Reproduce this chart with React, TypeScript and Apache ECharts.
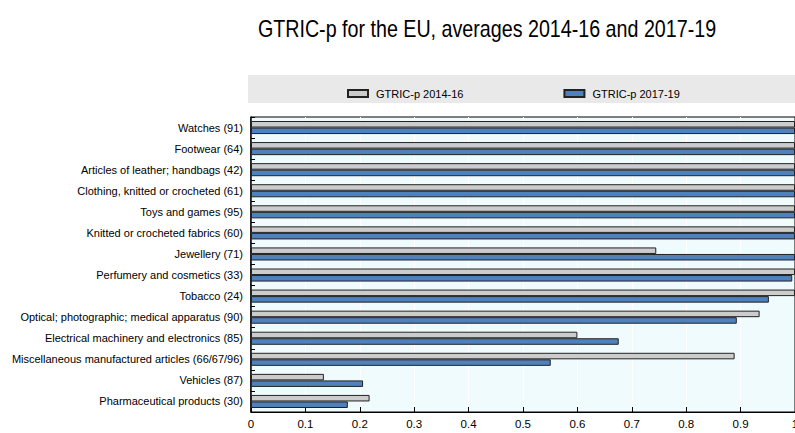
import React, { useEffect, useRef } from "react";
import * as echarts from "echarts";

const categories = [
  "Watches (91)",
  "Footwear (64)",
  "Articles of leather; handbags (42)",
  "Clothing, knitted or crocheted (61)",
  "Toys and games (95)",
  "Knitted or crocheted fabrics (60)",
  "Jewellery (71)",
  "Perfumery and cosmetics (33)",
  "Tobacco (24)",
  "Optical; photographic; medical apparatus (90)",
  "Electrical machinery and electronics (85)",
  "Miscellaneous manufactured articles (66/67/96)",
  "Vehicles (87)",
  "Pharmaceutical products (30)",
];

const gtric1416 = [1, 1, 1, 1, 1, 1, 0.745, 1, 1, 0.935, 0.6, 0.889, 0.134, 0.218];
const gtric1719 = [1, 1, 1, 1, 1, 1, 1, 0.995, 0.952, 0.893, 0.676, 0.551, 0.206, 0.178];

const seriesNames = ["GTRIC-p 2014-16", "GTRIC-p 2017-19"];
const xTicks = { min: 0, max: 1, interval: 0.1 };
const titleText = "GTRIC-p for the EU, averages 2014-16 and 2017-19";

const FONT = "'Liberation Sans', Arial, sans-serif";

export default function App() {
  const ref = useRef<HTMLDivElement>(null);

  useEffect(() => {
    if (!ref.current) return;
    const chart = echarts.init(ref.current, undefined, { renderer: "svg" });
    chart.setOption({
      animation: false,
      backgroundColor: "#ffffff",
      textStyle: { fontFamily: FONT },
      graphic: [
        {
          type: "rect",
          left: 248,
          top: 75,
          shape: { width: 547, height: 28 },
          style: { fill: "#e9e9e9" },
          silent: true,
          z: -1,
        },
        {
          // condensed title
          type: "text",
          x: 487,
          y: 29,
          scaleX: 0.856,
          style: {
            text: titleText,
            fontFamily: FONT,
            fontSize: 23,
            fill: "#000",
            align: "center",
            verticalAlign: "middle",
          },
        },
      ],
      legend: {
        left: 342,
        top: 83,
        itemWidth: 20,
        itemHeight: 7,
        itemGap: 100,
        textStyle: { fontFamily: FONT, fontSize: 11, color: "#000", padding: [0, 0, 0, 3] },
        data: seriesNames.map((n) => ({ name: n, icon: "rect" })),
      },
      grid: {
        left: 251,
        right: 0,
        top: 117,
        bottom: 21,
        outerBoundsMode: "none",
        show: true,
        backgroundColor: "#f0fbfe",
        borderColor: "#000",
        borderWidth: 1,
      },
      xAxis: {
        type: "value",
        min: xTicks.min,
        max: xTicks.max,
        interval: xTicks.interval,
        axisLine: { show: true, lineStyle: { color: "#000", width: 1 } },
        axisTick: { show: true, inside: true, length: 5, lineStyle: { color: "#000" } },
        splitLine: { show: true, lineStyle: { color: "#ffffff", width: 1 } },
        axisLabel: { color: "#000", fontSize: 11.5, fontFamily: FONT, margin: 6 },
      },
      yAxis: {
        type: "category",
        inverse: true,
        data: categories,
        axisLine: { show: true, lineStyle: { color: "#000", width: 1.5 } },
        axisTick: { show: true, inside: true, length: 4, lineStyle: { color: "#000" } },
        axisLabel: { color: "#000", fontSize: 11, fontFamily: FONT, margin: 8 },
      },
      series: [
        {
          name: seriesNames[0],
          type: "bar",
          data: gtric1416,
          barGap: "0%",
          barCategoryGap: "38%",
          itemStyle: { color: "#cccccc", borderColor: "#222", borderWidth: 1 },
        },
        {
          name: seriesNames[1],
          type: "bar",
          data: gtric1719,
          barGap: "0%",
          barCategoryGap: "38%",
          itemStyle: { color: "#4f81bd", borderColor: "#222", borderWidth: 1 },
        },
      ],
    });
    return () => chart.dispose();
  }, []);

  return (
    <div
      ref={ref}
      style={{ position: "fixed", left: 0, top: 0, width: 795, height: 433 }}
    />
  );
}
